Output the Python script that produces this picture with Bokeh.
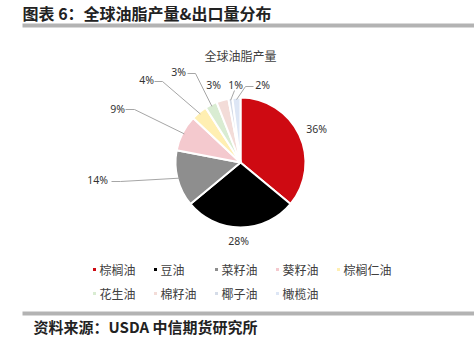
import math
from bokeh.plotting import figure
from bokeh.models import Range1d
from bokeh.core.properties import value
from bokeh.embed import file_html
from bokeh.resources import INLINE

# ---- data ----
categories = ["棕榈油", "豆油", "菜籽油", "葵籽油", "棕榈仁油", "花生油", "棉籽油", "椰子油", "橄榄油"]
shares = [36, 28, 14, 9, 4, 3, 3, 1, 2]
labels = ["36%", "28%", "14%", "9%", "4%", "3%", "3%", "1%", "2%"]
colors = ["#CE0A12", "#000000", "#8E8E8E", "#F4C9CE", "#FFEFB2", "#D9ECD2", "#F3DCD8", "#D5DCE8", "#DDE6F5"]
title_text = "图表 6：全球油脂产量&出口量分布"
chart_title = "全球油脂产量"
source_text = "资料来源：USDA 中信期货研究所"

# ---- layout (page pixel coordinates of the reference) ----
W, H = 474, 360
def X(px):
    return px
def Y(py):
    return H - py

cx, cy, R = 240, 162, 65
label_pos = [(316, 128), (238, 240), (97, 179), (117, 108), (146, 79),
             (178, 71), (213, 84), (235, 84), (262, 84)]
# elbow points of leader lines (None = no leader line)
leader_start = [None, None, [(111, 181), (120, 181)], [(125, 109), (134, 109)],
                [(154, 81), (162, 81)], [(187, 73), (195, 73)], None,
                [(234, 90)], [(253, 86), (245, 86)]]

p = figure(width=W, height=H, output_backend="svg", toolbar_location=None,
           x_range=Range1d(0, W), y_range=Range1d(0, H), min_border=0)
p.axis.visible = False
p.grid.visible = False
p.outline_line_color = None
p.background_fill_color = "white"
p.border_fill_color = "white"

FONT = value("Noto Sans CJK SC")

# header
p.text(x=[X(22)], y=[Y(12)], text=[title_text], text_font=FONT, text_font_size="16px",
       text_font_style="bold", text_color="#222222", text_baseline="middle", text_align="left")
p.quad(left=[X(22)], right=[X(474)], top=[Y(23)], bottom=[Y(27)], fill_color="#B3B3B3", line_color=None)

# chart title
p.text(x=[X(240)], y=[Y(55)], text=[chart_title], text_font=FONT, text_font_size="12px",
       text_color="#404040", text_baseline="middle", text_align="center")

# pie
total = float(sum(shares))
cum = 0.0
starts, ends, mids = [], [], []
for s in shares:
    a0 = math.pi / 2 - 2 * math.pi * cum / total
    cum += s
    a1 = math.pi / 2 - 2 * math.pi * cum / total
    starts.append(a0)
    ends.append(a1)
    mids.append((a0 + a1) / 2)

p.wedge(x=[X(cx)] * len(shares), y=[Y(cy)] * len(shares), radius=R,
        start_angle=starts, end_angle=ends, direction="clock",
        fill_color=colors, line_color="white", line_width=2)

# leader lines
for i, pts in enumerate(leader_start):
    if pts is None:
        continue
    ex = X(cx) + (R - 2) * math.cos(mids[i])
    ey = Y(cy) + (R - 2) * math.sin(mids[i])
    xs = [X(a) for a, b in pts] + [ex]
    ys = [Y(b) for a, b in pts] + [ey]
    p.line(xs, ys, line_color="#A6A6A6", line_width=1)

# percentage labels
p.text(x=[X(a) for a, b in label_pos], y=[Y(b) for a, b in label_pos], text=labels,
       text_font=value("Noto Sans"), text_font_size="10.5px", text_color="#333333",
       text_baseline="middle", text_align="center")

# legend
col_x = [94, 155, 216, 277, 338]
row_y = [269, 293]
for i, name in enumerate(categories):
    mx = col_x[i % 5]
    my = row_y[i // 5]
    p.rect(x=[X(mx)], y=[Y(my)], width=3, height=3, fill_color=colors[i], line_color=None)
    p.text(x=[X(mx + 5)], y=[Y(my)], text=[name], text_font=FONT, text_font_size="12px",
           text_color="#404040", text_baseline="middle", text_align="left")

# footer
p.quad(left=[X(22)], right=[X(474)], top=[Y(311)], bottom=[Y(315)], fill_color="#B3B3B3", line_color=None)
p.text(x=[X(33)], y=[Y(326)], text=[source_text], text_font=FONT, text_font_size="15px",
       text_font_style="bold", text_color="#222222", text_baseline="middle", text_align="left")

open("out.html", "w").write(file_html(p, INLINE))
